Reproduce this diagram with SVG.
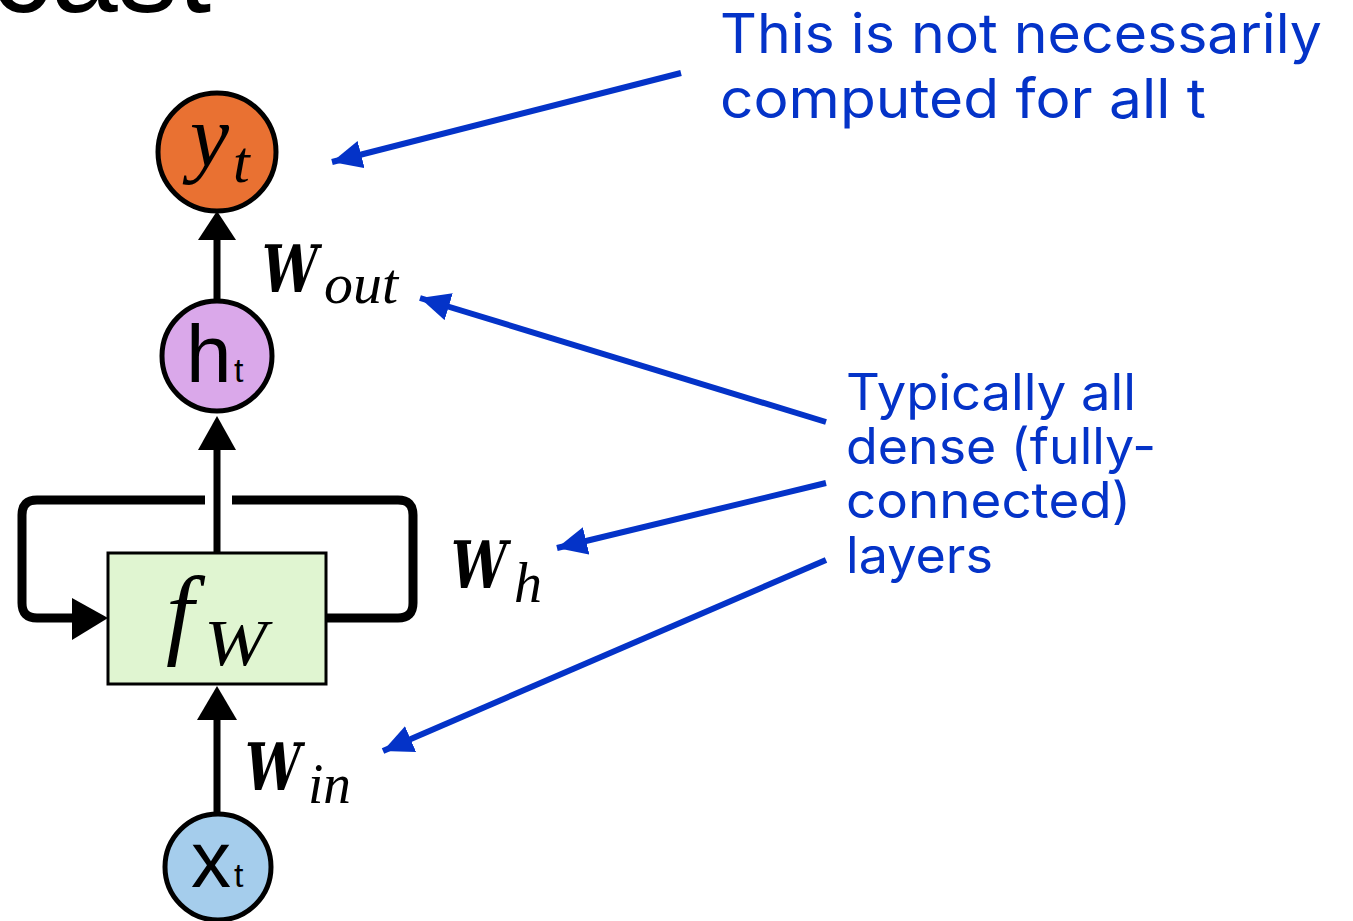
<svg xmlns="http://www.w3.org/2000/svg" width="1353" height="921" viewBox="0 0 1353 921">
  <defs>
    <style>
      .node { stroke: #000; stroke-width: 5; }
      .blk { stroke: #000; stroke-width: 7; fill: none; }
      .loop { stroke: #000; stroke-width: 9; fill: none; stroke-linejoin: round; }
      .blue { stroke: #0433C8; stroke-width: 6; fill: none; }
      .ann { font-family: Inter, "Liberation Sans", sans-serif; fill: #0433C8; }
      .sans { font-family: "Liberation Sans", Arial, sans-serif; fill: #000; }
      .math { font-family: "Liberation Serif", "DejaVu Serif", serif; font-style: italic; fill: #000; }
      .bw { font-family: "DejaVu Serif", "Liberation Serif", serif; font-style: italic; font-weight: bold; fill: #000; }
    </style>
    <marker id="blueHead" markerUnits="userSpaceOnUse" markerWidth="32" markerHeight="28" refX="30" refY="14" orient="auto">
      <path d="M0,0 L30,14 L0,28 Z" fill="#0433C8"/>
    </marker>
  </defs>

  <!-- cropped title -->
  <text class="sans" x="-9" y="12" font-size="120">cast</text>

  <!-- connectors -->
  <g id="connectors">
    <line class="blk" x1="217" y1="300" x2="217" y2="238"/>
    <path d="M198,240 L217,211 L236,240 Z" fill="#000"/>
    <line class="blk" x1="217" y1="553" x2="217" y2="448"/>
    <path d="M198,450 L217,416 L236,450 Z" fill="#000"/>
    <line class="blk" x1="217" y1="814" x2="217" y2="718"/>
    <path d="M197,720 L217,686 L237,720 Z" fill="#000"/>
    <path class="loop" d="M232,500 H398 Q413,500 413,515 V603 Q413,618 398,618 H327"/>
    <path class="loop" d="M205,500 H37 Q22,500 22,515 V603 Q22,618 37,618 H76"/>
    <path d="M72,598 L108,618 L72,640 Z" fill="#000"/>

    <line class="blue" x1="681" y1="73" x2="332" y2="162" marker-end="url(#blueHead)"/>
    <line class="blue" x1="826" y1="422" x2="420" y2="298" marker-end="url(#blueHead)"/>
    <line class="blue" x1="826" y1="483" x2="557" y2="548" marker-end="url(#blueHead)"/>
    <line class="blue" x1="826" y1="560" x2="383" y2="751" marker-end="url(#blueHead)"/>
  </g>

  <g id="node-yt">
    <circle class="node" cx="217" cy="152" r="59" fill="#E97132"/>
    <text class="math" x="190" y="166" font-size="88">y</text>
    <text class="math" x="233" y="182" font-size="60">t</text>
  </g>

  <g id="node-ht">
    <circle class="node" cx="217" cy="356" r="55" fill="#DAA8EA"/>
    <text class="sans" x="186" y="382" font-size="82">h</text>
    <text class="sans" x="234" y="382" font-size="34">t</text>
  </g>

  <g id="node-fw">
    <rect x="108" y="553" width="218" height="131" fill="#E0F5D1" stroke="#000" stroke-width="3"/>
    <text class="math" x="166" y="646" font-size="100">f</text>
    <text class="math" x="204" y="665" font-size="66" textLength="63" lengthAdjust="spacingAndGlyphs">W</text>
  </g>

  <g id="node-xt">
    <circle class="node" cx="218" cy="867" r="53" fill="#A5CDEC"/>
    <text class="sans" x="191" y="887" font-size="80">x</text>
    <text class="sans" x="234" y="887" font-size="34">t</text>
  </g>

  <g id="labels">
    <text class="bw" x="262" y="292" font-size="66" textLength="56" lengthAdjust="spacingAndGlyphs">W</text>
    <text class="math" x="324" y="303" font-size="56" textLength="74" lengthAdjust="spacingAndGlyphs">out</text>
    <text class="bw" x="451" y="588" font-size="66" textLength="56" lengthAdjust="spacingAndGlyphs">W</text>
    <text class="math" x="514" y="602" font-size="56">h</text>
    <text class="bw" x="245" y="790" font-size="66" textLength="56" lengthAdjust="spacingAndGlyphs">W</text>
    <text class="math" x="308" y="803" font-size="56" textLength="43" lengthAdjust="spacingAndGlyphs">in</text>
  </g>

  <g id="note-top">
    <text class="ann" x="720" y="53" font-size="55" textLength="602" lengthAdjust="spacingAndGlyphs">This is not necessarily</text>
    <text class="ann" x="720" y="118" font-size="55" textLength="486" lengthAdjust="spacingAndGlyphs">computed for all t</text>
  </g>

  <g id="note-dense">
    <text class="ann" x="846" y="410" font-size="50" textLength="290" lengthAdjust="spacingAndGlyphs">Typically all</text>
    <text class="ann" x="846" y="464" font-size="50" textLength="310" lengthAdjust="spacingAndGlyphs">dense (fully-</text>
    <text class="ann" x="846" y="518" font-size="50" textLength="285" lengthAdjust="spacingAndGlyphs">connected)</text>
    <text class="ann" x="846" y="573" font-size="50" textLength="147" lengthAdjust="spacingAndGlyphs">layers</text>
  </g>
</svg>
